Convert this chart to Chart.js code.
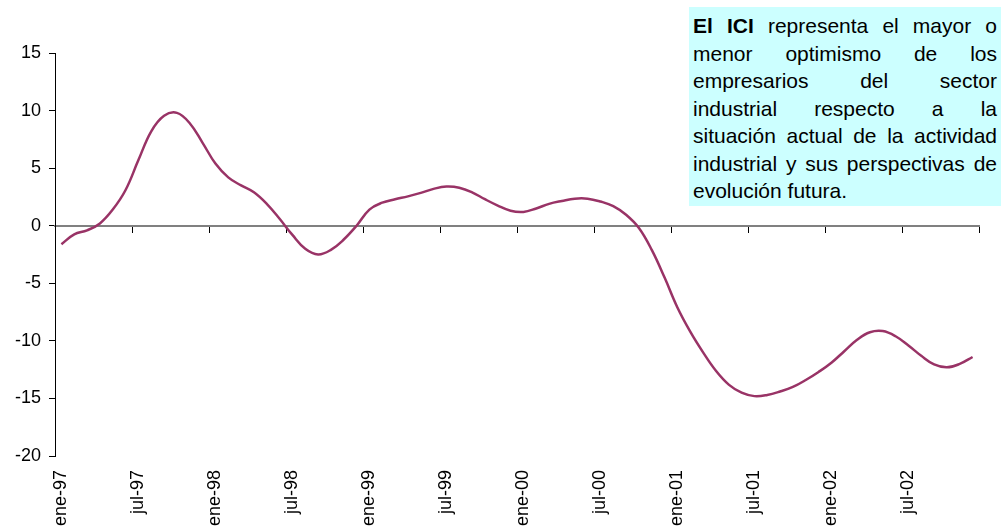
<!DOCTYPE html>
<html>
<head>
<meta charset="utf-8">
<title>ICI</title>
<script src="https://cdn.jsdelivr.net/npm/chart.js@4.4.1/dist/chart.umd.min.js"></script>
<style>
    html, body { margin: 0; padding: 0; background: #fff; overflow: hidden; }
    #wrap { position: relative; width: 1001px; height: 527px; }
    #note {
        position: absolute; left: 689px; top: 7px; width: 312px; height: 199px;
        box-sizing: border-box; padding: 5px 4px 0 4px;
        background: #ccffff; color: #000;
        font-family: 'Liberation Sans', Arial, sans-serif; font-size: 21px; line-height: 27.5px;
    }
    #note span { display: block; text-align: justify; text-align-last: justify; white-space: nowrap; }
    #note span.last { text-align-last: left; }
</style>
</head>
<body>
<div id="wrap">
    <canvas id="iciChart" width="1001" height="527"></canvas>
    <div id="note">
        <span><b>El ICI</b> representa el mayor o</span>
        <span>menor optimismo de los</span>
        <span>empresarios del sector</span>
        <span>industrial respecto a la</span>
        <span>situación actual de la actividad</span>
        <span>industrial y sus perspectivas de</span>
        <span class="last">evolución futura.</span>
    </div>
</div>
<script>
// Indicador de Clima Industrial, serie mensual ene-97 .. dic-02
var monthNames = ['ene', 'feb', 'mar', 'abr', 'may', 'jun', 'jul', 'ago', 'sep', 'oct', 'nov', 'dic'];
var years = ['97', '98', '99', '00', '01', '02'];
var yTicks = { min: -20, max: 15, step: 5 };

var iciValues = [
    -1.6, -0.75, -0.4, 0.2, 1.4, 3.1, 5.7, 8.2, 9.55, 9.8, 8.9, 7.2,          // 1997
    5.4, 4.2, 3.5, 2.9, 1.9, 0.6, -0.8, -2.0, -2.5, -2.1, -1.2, 0.0,          // 1998
    1.4, 2.0, 2.3, 2.55, 2.85, 3.2, 3.4, 3.3, 2.9, 2.3, 1.75, 1.3,            // 1999
    1.2, 1.5, 1.9, 2.15, 2.35, 2.35, 2.1, 1.7, 0.95, -0.2, -2.1, -4.5,        // 2000
    -7.1, -9.2, -11.0, -12.6, -13.8, -14.5, -14.8, -14.7, -14.4, -14.0, -13.4, -12.7, // 2001
    -11.9, -10.9, -9.9, -9.25, -9.15, -9.6, -10.4, -11.3, -12.05, -12.3, -12.0, -11.4  // 2002
];

var labels = [];
for (var y = 0; y < years.length; y++) {
    for (var m = 0; m < monthNames.length; m++) {
        labels.push(monthNames[m] + '-' + years[y]);
    }
}

var axisFont = { family: "'Liberation Sans', Arial, sans-serif", size: 18 };

// only every sixth category boundary gets a tick mark on the zero line
function halfYearTick(ctx) {
    if (ctx.type === 'tick' && ctx.index % 6 !== 0) return 'rgba(0,0,0,0)';
    return '#000';
}

// keep rotated labels from pushing the plot area in from the sides
function noSidePadding(scale) {
    scale.paddingLeft = 0;
    scale.paddingRight = 0;
}

var ctx = document.getElementById('iciChart').getContext('2d');
var iciChart = new Chart(ctx, {
    type: 'line',
    data: {
        labels: labels,
        datasets: [{
            data: iciValues,
            xAxisID: 'x',
            yAxisID: 'y',
            borderColor: '#993366',
            borderWidth: 2.5,
            pointRadius: 0,
            tension: 0.4,
            fill: false
        }]
    },
    options: {
        responsive: false,
        animation: false,
        devicePixelRatio: 1,
        layout: { padding: { top: 53, right: 22, left: 0, bottom: 0 } },
        plugins: { legend: { display: false }, tooltip: { enabled: false } },
        scales: {
            x: {
                type: 'category',
                position: 'bottom',
                offset: true,
                grid: { display: false, drawTicks: false },
                border: { display: false },
                ticks: {
                    autoSkip: false,
                    minRotation: 90,
                    maxRotation: 90,
                    padding: 14,
                    color: '#000',
                    font: axisFont,
                    callback: function (val, i) {
                        return i % 6 === 0 ? this.getLabelForValue(val) : '';
                    }
                },
                afterFit: function (scale) {
                    scale.height = 71;
                    noSidePadding(scale);
                }
            },
            xZero: {
                type: 'category',
                axis: 'x',
                position: { y: 0 },
                offset: true,
                ticks: { display: false, autoSkip: false },
                grid: { drawOnChartArea: false, offset: true, tickLength: 6, lineWidth: 1, color: halfYearTick },
                border: { color: '#808080', width: 2 },
                afterFit: noSidePadding
            },
            y: {
                type: 'linear',
                position: 'left',
                min: yTicks.min,
                max: yTicks.max,
                ticks: { stepSize: yTicks.step, color: '#000', font: axisFont, padding: 8 },
                grid: { drawOnChartArea: false, color: '#000', tickLength: 6, lineWidth: 1 },
                border: { color: '#000', width: 1 },
                afterFit: function (scale) { scale.width = 55; }
            }
        }
    }
});
</script>
</body>
</html>
